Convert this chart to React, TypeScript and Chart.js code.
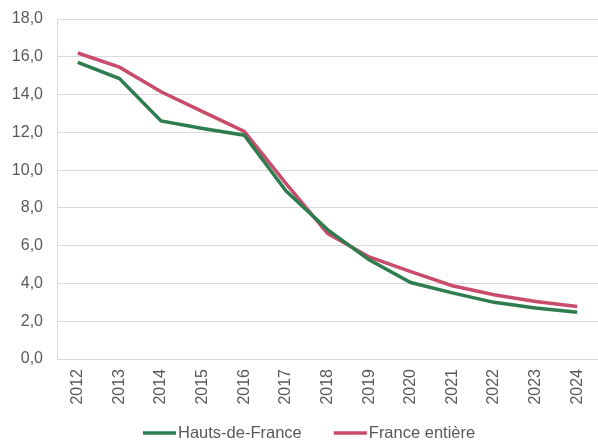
import React, { useEffect, useRef } from "react";
import { Chart, registerables } from "chart.js";

Chart.register(...registerables);

const years = ["2012", "2013", "2014", "2015", "2016", "2017", "2018", "2019", "2020", "2021", "2022", "2023", "2024"];
const hautsDeFrance = [15.7, 14.85, 12.6, 12.2, 11.85, 8.9, 6.85, 5.25, 4.05, 3.5, 3.0, 2.7, 2.48];
const franceEntiere = [16.2, 15.45, 14.15, 13.1, 12.05, 9.3, 6.65, 5.4, 4.63, 3.88, 3.4, 3.04, 2.78];

const GREEN = "#2E7D4F";
const RED = "#C94C6C";
const TEXT = "#595959";
const GRID = "#D9D9D9";
const FONT = "'Liberation Sans', Arial, sans-serif";

// Bottom legend: short coloured line followed closely by the series name
const lineLegend = {
  id: "lineLegend",
  afterDraw(chart: any) {
    const ctx = chart.ctx;
    const y = 433;
    let x = 143;
    ctx.save();
    ctx.font = `16.5px ${FONT}`;
    ctx.textBaseline = "middle";
    ctx.textAlign = "left";
    chart.data.datasets.forEach((ds: any, i: number) => {
      if (i > 0) x += 32;
      ctx.strokeStyle = ds.borderColor;
      ctx.lineWidth = 3.5;
      ctx.beginPath();
      ctx.moveTo(x, y);
      ctx.lineTo(x + 33, y);
      ctx.stroke();
      x += 35;
      ctx.fillStyle = TEXT;
      ctx.fillText(ds.label, x, y);
      x += ctx.measureText(ds.label).width;
    });
    ctx.restore();
  },
};

export default function App() {
  const ref = useRef<HTMLCanvasElement | null>(null);

  useEffect(() => {
    document.body.style.margin = "0";
    if (!ref.current) return;
    const chart = new Chart(ref.current, {
      type: "line",
      data: {
        labels: years,
        datasets: [
          {
            label: "Hauts-de-France",
            data: hautsDeFrance,
            borderColor: GREEN,
            backgroundColor: GREEN,
            borderWidth: 3.5,
            pointRadius: 0,
            tension: 0,
          },
          {
            label: "France entière",
            data: franceEntiere,
            borderColor: RED,
            backgroundColor: RED,
            borderWidth: 3.5,
            pointRadius: 0,
            tension: 0,
          },
        ],
      },
      plugins: [lineLegend],
      options: {
        animation: false,
        responsive: false,
        maintainAspectRatio: false,
        layout: { padding: { top: 19, right: 0, left: 10, bottom: 35 } },
        plugins: {
          tooltip: { enabled: false },
          legend: { display: false },
        },
        scales: {
          x: {
            offset: true,
            grid: { display: false, drawTicks: false },
            border: { display: true, color: GRID },
            afterFit(scale: any) {
              scale.paddingLeft = 0;
              scale.paddingRight = 0;
              scale.height = 50;
            },
            ticks: {
              color: TEXT,
              font: { family: FONT, size: 16 },
              maxRotation: 90,
              minRotation: 90,
              padding: 10,
            },
          },
          y: {
            min: 0,
            max: 18,
            grid: { color: GRID, drawTicks: false },
            border: { display: true, color: GRID },
            afterFit(scale: any) {
              scale.paddingTop = 0;
              scale.paddingBottom = 0;
              scale.width = 47;
            },
            ticks: {
              stepSize: 2,
              color: TEXT,
              font: { family: FONT, size: 16 },
              padding: 14,
              callback: (v) => Number(v).toFixed(1).replace(".", ","),
            },
          },
        },
      },
    });
    return () => chart.destroy();
  }, []);

  return <canvas ref={ref} width={598} height={444} style={{ display: "block" }} />;
}
